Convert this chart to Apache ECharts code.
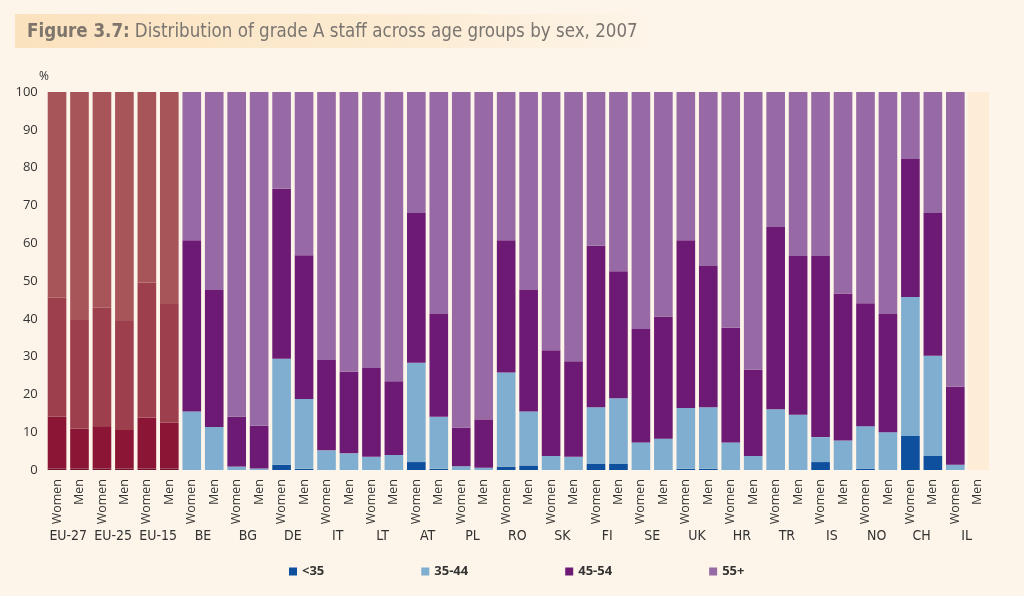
<!DOCTYPE html>
<html>
<head>
<meta charset="utf-8">
<script src="https://cdn.jsdelivr.net/npm/echarts@6/dist/echarts.min.js"></script>
<style>
  html, body { margin: 0; padding: 0; background: #FDF5E9; }
  #chart { width: 1024px; height: 596px; }
</style>
</head>
<body>
<div id="chart"></div>
<script>
const groups = ['EU-27','EU-25','EU-15','BE','BG','DE','IT','LT','AT','PL','RO','SK','FI','SE','UK','HR','TR','IS','NO','CH','IL'];
const sexes = ['Women','Men'];
const seriesNames = ['<35','35-44','45-54','55+'];

// segment values (%) per bar, order: group Women, group Men
const under35 = [0.4,0.4, 0.4,0.4, 0.4,0.4, 0,0, 0,0, 1.4,0.3, 0,0, 0,0, 2.1,0.3, 0,0, 0.9,1.2, 0,0, 1.6,1.6, 0,0, 0.3,0.3, 0,0, 0,0, 2.1,0, 0.3,0, 9.0,3.7, 0,null];
const age35_44 = [13.7,10.5, 11.2,10.2, 13.5,12.1, 15.5,11.4, 0.9,0.4, 28.0,18.5, 5.2,4.4, 3.5,4.0, 26.3,13.8, 1.0,0.6, 24.9,14.3, 3.7,3.5, 15.0,17.4, 7.3,8.3, 16.1,16.3, 7.3,3.7, 16.1,14.6, 6.6,7.8, 11.3,10.0, 36.8,26.5, 1.4,null];
const age45_54 = [31.5,28.8, 31.3,28.8, 35.7,31.4, 45.3,36.2, 13.2,11.3, 45.0,38.0, 23.9,21.6, 23.5,19.5, 39.6,27.2, 10.2,12.8, 35.0,32.1, 28.0,25.3, 42.7,33.6, 30.0,32.3, 44.4,37.4, 30.3,22.8, 48.2,42.0, 47.9,38.9, 32.5,31.3, 36.5,37.8, 20.6,null];
const age55plus = [54.4,60.3, 57.1,60.6, 50.4,56.1, 39.2,52.4, 85.9,88.3, 25.6,43.2, 70.9,74.0, 73.0,76.5, 32.0,58.7, 88.8,86.6, 39.2,52.4, 68.3,71.2, 40.7,47.4, 62.7,59.4, 39.2,46.0, 62.4,73.5, 35.7,43.4, 43.4,53.3, 55.9,58.7, 17.7,32.0, 78.0,null];
const yTicks = [0,10,20,30,40,50,60,70,80,90,100];

const colors = ['#0E4F9E', '#7FAED0', '#6D1A75', '#976AA5'];
const euColors = ['#6E1230', '#8B1535', '#9D3F4D', '#A85559'];
const euCount = 6;
const narrow = "'DejaVu Sans Condensed','Liberation Sans Narrow','Noto Sans',sans-serif";

const barCats = [];
groups.forEach(g => sexes.forEach(s => barCats.push(g + '|' + s)));

const segs = [under35, age35_44, age45_54, age55plus];

const chart = echarts.init(document.getElementById('chart'));

const series = segs.map((arr, si) => ({
  name: seriesNames[si],
  type: 'bar',
  stack: 'total',
  xAxisIndex: 0,
  barWidth: '83%',
  itemStyle: { color: colors[si] },
  data: arr.map((v, i) => (i < euCount ? { value: v, itemStyle: { color: euColors[si] } } : v))
}));

const option = {
  backgroundColor: '#FDF5E9',
  animation: false,
  title: {
    left: 22,
    top: 18,
    text: '{b|Figure 3.7:} {r|Distribution of grade A staff across age groups by sex, 2007}',
    textStyle: {
      rich: {
        b: { fontFamily: narrow, fontWeight: 'bold', fontSize: 18.6, color: '#7E766C' },
        r: { fontFamily: narrow, fontWeight: 'normal', fontSize: 18.6, color: '#7A7570' }
      }
    }
  },
  graphic: [{
    type: 'rect',
    id: 'banner',
    left: 15,
    top: 14,
    z: -10,
    shape: { width: 640, height: 34 },
    style: {
      fill: new echarts.graphic.LinearGradient(0, 0, 1, 0, [
        { offset: 0, color: '#FBE2BE' },
        { offset: 0.6, color: '#FCEBD2' },
        { offset: 1, color: '#FDF5E9' }
      ])
    }
  }],
  legend: {
    data: seriesNames,
    left: 284,
    top: 560,
    itemWidth: 8,
    itemHeight: 8,
    itemGap: 97,
    icon: 'rect',
    textStyle: { fontFamily: 'Open Sans', fontWeight: 'bold', fontSize: 13, color: '#333' }
  },
  grid: { left: 45.8, right: 35, top: 92, bottom: 126 },
  xAxis: [{
    type: 'category',
    data: barCats,
    axisLine: { show: false },
    axisTick: { show: false },
    axisLabel: {
      interval: 0,
      rotate: 90,
      margin: 9,
      fontFamily: 'Open Sans',
      fontSize: 12.5,
      color: '#333',
      formatter: v => v.split('|')[1]
    }
  }, {
    type: 'category',
    position: 'bottom',
    data: groups,
    axisLine: { show: false },
    axisTick: { show: false },
    axisLabel: {
      interval: 0,
      margin: 59,
      fontFamily: narrow,
      fontSize: 14,
      color: '#333'
    }
  }],
  yAxis: {
    type: 'value',
    min: 0,
    max: 100,
    interval: 10,
    name: '%',
    nameLocation: 'end',
    nameGap: 9,
    nameTextStyle: { fontFamily: 'Open Sans', fontSize: 12, color: '#333', align: 'right', padding: [0, -3, 0, 0] },
    axisLine: { show: false },
    axisTick: { show: false },
    splitLine: { show: false },
    axisLabel: {
      margin: 8,
      fontFamily: 'Open Sans',
      fontSize: 13,
      color: '#333',
      formatter: v => (yTicks.indexOf(v) >= 0 ? String(v) : '')
    }
  },
  series: series
};

chart.setOption(option);

// empty IL Men slot panel
const lastIdx = barCats.length - 1;
const cx = chart.convertToPixel({ xAxisIndex: 0 }, barCats[lastIdx]);
const cxPrev = chart.convertToPixel({ xAxisIndex: 0 }, barCats[lastIdx - 1]);
const band = cx - cxPrev;
const yTop = chart.convertToPixel({ yAxisIndex: 0 }, 100);
const yBot = chart.convertToPixel({ yAxisIndex: 0 }, 0);
chart.setOption({
  graphic: [{
    type: 'rect',
    id: 'ilmen',
    z: -5,
    shape: { x: cx - band / 2 + 1, y: yTop, width: band - 1, height: yBot - yTop },
    style: { fill: '#FDEDD6' }
  }]
});
</script>
</body>
</html>
